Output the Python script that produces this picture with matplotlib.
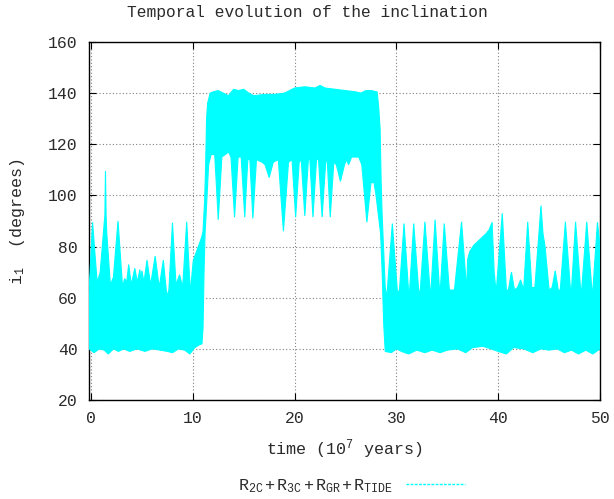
"""
Temporal evolution of the inclination (gnuplot-style recreation).
"""

import numpy as np
import matplotlib
matplotlib.use('Agg')
import matplotlib.pyplot as plt
from matplotlib.lines import Line2D

TEXT = '#2a2a2a'

plt.rcParams.update({
    'font.family': 'Liberation Mono',
    'font.size': 12,
    'text.color': TEXT,
    'xtick.labelcolor': TEXT,
    'ytick.labelcolor': TEXT,
    'axes.labelcolor': TEXT,
    'mathtext.fontset': 'custom',
    'mathtext.rm': 'Liberation Mono',
    'mathtext.it': 'Liberation Mono',
})

CYAN = '#00ffff'

# upper envelope of the inclination band (time in 1e7 yr, degrees)
t_upper = [
    -0.2, 0.15, 0.6, 0.9, 1.3, 1.36, 1.42, 1.48, 1.55, 1.9, 2.2, 2.65, 3.1,
    3.3, 3.5, 3.7, 3.95, 4.3, 4.55, 4.8, 4.9, 5.0, 5.2, 5.5, 5.85, 6.3, 6.7,
    7.1, 7.45, 7.65, 8.0, 8.35, 8.7, 9.0, 9.4, 9.75, 10.05, 10.55, 10.9,
    11.0, 11.15, 11.25, 11.35, 11.45, 11.7,
    12.0, 12.5, 13.0, 13.5, 14.0, 14.5, 15.0, 15.5, 16.0, 17.0, 18.0, 19.0,
    19.5, 20.0, 21.0, 22.0, 22.5, 23.0, 24.0, 25.0, 26.0, 26.5, 27.0, 27.5,
    28.1, 28.25, 28.4, 28.5, 28.6, 28.75, 28.9, 29.05,
    29.6, 30.1, 30.3, 30.75, 31.2, 31.3, 31.7, 32.2, 32.35, 32.8, 33.3, 33.4,
    33.8, 34.25, 34.3, 34.7, 35.2, 35.7, 36.4, 36.9, 37.0, 37.2, 37.6, 38.0,
    38.4, 38.8, 39.1, 39.4, 39.6, 39.8, 40.4, 40.8, 41.0, 41.3, 41.6, 41.9,
    42.2, 42.5, 42.9, 43.3, 43.6, 44.0, 44.2, 44.4, 44.6, 45.0, 45.3, 45.6,
    45.9, 46.1, 46.6, 47.1, 47.2, 47.6, 48.1, 48.2, 48.7, 49.2, 49.3, 49.75,
    50.0,
]
i_upper = [
    62, 89.5, 66, 70, 89.5, 92, 109.5, 92, 85, 65, 68, 90, 64,
    67.5, 66, 73, 65, 71.5, 66, 71, 67, 70.5, 66, 74.7, 65, 76.3, 64,
    74.7, 60.5, 63, 89.3, 65, 69, 64, 89.7, 62, 74.7, 80, 84,
    86, 97, 110, 130, 136, 140,
    140.5, 141, 140, 139, 141.5, 141, 141.5, 140, 139, 139.5, 139.5, 140,
    141, 142, 142.5, 142, 143, 142, 141.5, 141, 140.5, 140, 141, 141,
    140.5, 135, 126, 105, 92, 78, 64, 60,
    89, 62, 63, 89, 62, 63, 89, 62, 63, 89.7, 63, 63,
    90.5, 62, 62, 89, 63, 63, 89.7, 63, 75, 78, 80.5, 82,
    83.5, 85, 86.5, 89.5, 70, 62, 93, 63, 63, 70, 63, 64,
    67, 63, 89.7, 64, 64, 85, 96, 85, 80, 63, 64, 70.5,
    63, 63, 89.7, 63, 63, 89.7, 63, 63, 89.7, 63, 63, 89.5,
    80,
]

# lower envelope of the inclination band
t_lower = [
    -0.2, 0.3, 0.8, 1.3, 1.7, 2.2, 2.7, 3.2, 3.8, 4.5, 5.3, 6.0, 6.8, 7.5,
    8.0, 8.6, 9.2, 9.7, 10.2, 10.6, 10.9, 11.0, 11.1, 11.2, 11.4, 11.55,
    11.8, 12.15, 12.5, 12.85, 13.5, 13.75, 14.1, 14.45, 14.75, 15.1, 15.4,
    15.6, 15.9, 16.25, 16.8, 17.1, 17.5, 17.9, 18.4, 18.9, 19.4, 19.75,
    20.1, 20.45, 20.65, 21.0, 21.35, 21.5, 21.8, 22.15, 22.35, 22.7, 23.05,
    23.2, 23.5, 23.85, 24.1, 24.5, 24.9, 25.1, 25.3, 25.6, 26.3, 26.6, 27.1,
    27.5, 27.8, 28.0, 28.3, 28.45, 28.6, 28.75, 28.9,
    29.5, 30.0, 30.5, 31.2, 32.0, 32.8, 33.5, 34.3, 35.0, 36.0, 36.8, 37.5,
    38.5, 39.3, 40.0, 40.8, 41.5, 42.5, 43.4, 44.2, 45.0, 45.8, 46.5, 47.2,
    47.9, 48.6, 49.3, 50.0,
]
i_lower = [
    40, 38.5, 40, 39.5, 38, 40, 39, 40, 39, 40, 39, 40, 39.5, 39,
    38.5, 40, 39.5, 38, 40.5, 41.5, 42, 48, 70, 85, 100, 112,
    116, 116, 90.5, 115, 117, 115, 91.5, 115, 115, 91.5, 114,
    114, 91, 114, 113, 112, 107, 113, 114, 86, 113, 114,
    91.5, 113, 114, 92, 114, 114, 91.5, 114, 114, 91.5, 113,
    114, 91.5, 113, 112, 105.5, 112, 114, 112, 115, 115, 112, 89.5,
    105, 105, 100, 90, 85, 70, 50, 39,
    38.5, 40, 39, 38, 39.5, 38.5, 39.5, 38.5, 39.5, 40, 38.5, 40.5,
    41, 40, 39, 38, 40.5, 40, 38.5, 40, 39.5, 40, 38.5, 39.5,
    38, 39.5, 38, 40,
]

x_ticks = [0, 10, 20, 30, 40, 50]
y_ticks = [20, 40, 60, 80, 100, 120, 140, 160]

fig = plt.figure(figsize=(6.14, 4.99), dpi=100)
ax = fig.add_axes([89 / 614, 1 - 400 / 499, 511 / 614, 358 / 499])

band_t = np.concatenate([t_upper, t_lower[::-1]])
band_i = np.concatenate([i_upper, i_lower[::-1]])
ax.fill(band_t, band_i, color=CYAN, lw=0.8, zorder=3)

ax.set_xlim(-0.2, 50)
ax.set_ylim(20, 160)
ax.set_xticks(x_ticks)
ax.set_yticks(y_ticks)
ax.grid(True, color='#808080', linestyle=(0, (1, 2)), linewidth=0.8)
ax.tick_params(direction='in', length=5, top=True, right=True, pad=8,
               labelsize=11.8)
for spine in ax.spines.values():
    spine.set_linewidth(1.0)

ax.set_xlabel(r'time (10$^{\mathrm{7}}$ years)', labelpad=8)
fig.text(18 / 614, 1 - 222 / 499, r'$\mathrm{i_1}$  (degrees)', rotation=90,
         ha='center', va='center')
fig.text(0.5, 1 - 13 / 499, 'Temporal evolution of the inclination',
         ha='center', va='center', fontsize=11.7)

handle = Line2D([], [], color=CYAN, lw=1, linestyle=(0, (2, 1)))
fig.legend([handle], [r'$\mathrm{R_{2C}+R_{3C}+R_{GR}+R_{TIDE}}$'],
           loc='center', bbox_to_anchor=(0.572, 0.026), frameon=False,
           markerfirst=False, handlelength=3.5, handletextpad=0.8)

fig.savefig('out.png', dpi=100)
